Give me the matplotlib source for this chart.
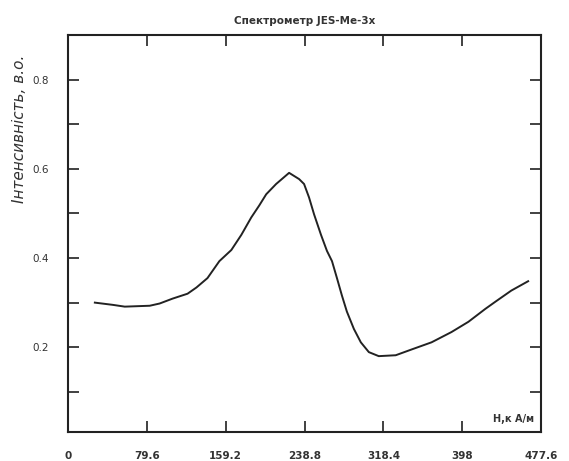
import numpy as np
import matplotlib
matplotlib.use("Agg")
import matplotlib.pyplot as plt
from matplotlib.ticker import FixedLocator

# --- data
field = [27.1, 45.2, 57.3, 82.5, 92.5, 105.6, 120.7, 129.7, 140.8, 152.8,
         164.9, 175.0, 185.0, 193.1, 200.1, 210.1, 223.2, 233.3, 238.3, 243.3,
         248.4, 255.4, 261.4, 266.5, 271.5, 276.5, 281.5, 288.6, 295.6, 303.7,
         313.7, 330.8, 346.9, 367.0, 387.1, 404.2, 421.3, 431.4, 447.5, 464.5]
intensity = [0.300, 0.295, 0.291, 0.293, 0.298, 0.309, 0.320, 0.334, 0.355, 0.393,
             0.418, 0.452, 0.491, 0.518, 0.543, 0.566, 0.591, 0.577, 0.566, 0.536,
             0.498, 0.452, 0.416, 0.393, 0.355, 0.316, 0.280, 0.241, 0.211, 0.189,
             0.180, 0.182, 0.195, 0.211, 0.234, 0.257, 0.286, 0.302, 0.327, 0.348]

x_ticks = [0, 79.6, 159.2, 238.8, 318.4, 398, 477.6]
x_labels = ["0", "79.6", "159.2", "238.8", "318.4", "398", "477.6"]
y_ticks = [0.2, 0.4, 0.6, 0.8]
y_labels = ["0.2", "0.4", "0.6", "0.8"]
y_minor = [0.1, 0.3, 0.5, 0.7]

fig = plt.figure(figsize=(5.69, 4.61), dpi=100)
ax = fig.add_axes([0.1195, 0.063, 0.8315, 0.861])

ax.plot(field, intensity, color="#222222", lw=1.4)

ax.set_xlim(0, 477.6)
ax.set_ylim(0.01, 0.9)

ax.set_xticks(x_ticks)
ax.set_xticklabels(x_labels, fontsize=7.5, fontweight="bold", color="#333333")
ax.set_yticks(y_ticks)
ax.set_yticklabels(y_labels, fontsize=7.5, color="#333333")
ax.yaxis.set_minor_locator(FixedLocator(y_minor))

ax.tick_params(axis="both", which="both", direction="in", top=True, right=True,
               length=8, width=1.3, color="#333333")
ax.tick_params(axis="x", pad=14)
ax.tick_params(axis="y", pad=14)

for sp in ax.spines.values():
    sp.set_linewidth(1.5)
    sp.set_color("#222222")

ax.set_title("Спектрометр JES-Me-3x", fontsize=7.5, fontweight="bold",
             color="#333333", pad=8)
ax.text(0.985, 0.02, "H,к А/м", transform=ax.transAxes, ha="right", va="bottom",
        fontsize=7, fontweight="bold", color="#333333")

fig.text(0.035, 0.72, "Інтенсивність, в.о.", rotation=90, ha="center", va="center",
         fontsize=11, fontstyle="italic", color="#333333")

fig.savefig("out.png", dpi=100)
